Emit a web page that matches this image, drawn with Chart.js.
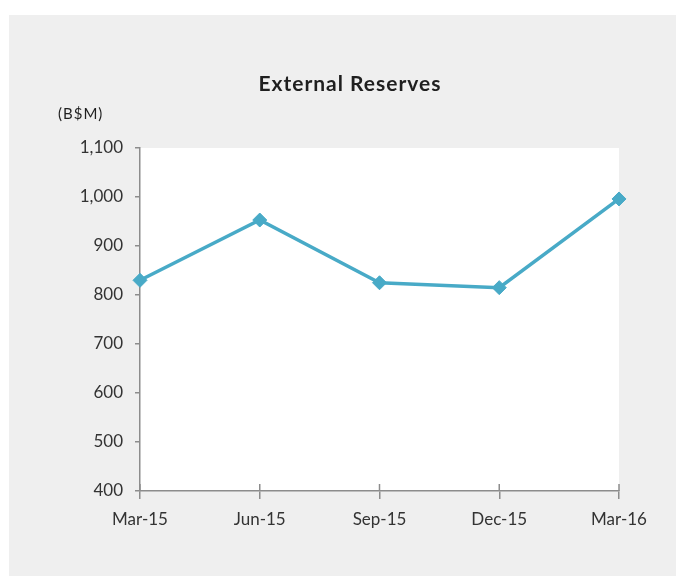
<!DOCTYPE html>
<html>
<head>
<meta charset="utf-8">
<title>External Reserves</title>
<script src="https://cdn.jsdelivr.net/npm/chart.js@4"></script>
<style>
  html, body { margin: 0; padding: 0; background: #ffffff; }
  #panel {
    position: absolute; left: 9px; top: 15px;
    width: 667px; height: 561px; background: #efefef;
  }
  canvas { display: block; }
</style>
</head>
<body>
<div id="panel"><canvas id="reservesChart" width="667" height="561"></canvas></div>
<script>
// quarterly reserves, B$M
const quarters = ['Mar-15', 'Jun-15', 'Sep-15', 'Dec-15', 'Mar-16'];
const reserves = [830, 953, 825, 815, 996];
const yMin = 400;
const yMax = 1100;
const yStep = 100;

const lineColor = '#48aac7';
const axisColor = '#8c8c8c';
const textColor = '#333333';

// white plot area, title, unit label and the upper half of the x ticks
const decor = {
    id: 'decor',
    beforeDraw(chart) {
        const a = chart.chartArea;
        const ctx = chart.ctx;
        ctx.save();
        ctx.fillStyle = '#ffffff';
        ctx.fillRect(a.left, a.top, a.right - a.left, a.bottom - a.top);
        ctx.restore();
    },
    afterDraw(chart) {
        const ctx = chart.ctx;
        const x = chart.scales.x;
        ctx.save();
        ctx.strokeStyle = axisColor;
        ctx.lineWidth = 1.5;
        x.ticks.forEach((t, i) => {
            const px = x.getPixelForTick(i);
            ctx.beginPath();
            ctx.moveTo(px, x.top - 7);
            ctx.lineTo(px, x.top);
            ctx.stroke();
        });
        ctx.fillStyle = '#1f1f1f';
        ctx.textAlign = 'center';
        ctx.textBaseline = 'middle';
        ctx.letterSpacing = '1px';
        ctx.font = 'bold 21px Lato';
        ctx.fillText('External Reserves', 341, 69);
        ctx.textAlign = 'left';
        ctx.font = '15px Lato';
        ctx.fillText('(B$M)', 49, 99);
        ctx.restore();
    }
};

const ctx = document.getElementById('reservesChart').getContext('2d');
const reservesChart = new Chart(ctx, {
    type: 'line',
    data: {
        labels: quarters,
        datasets: [{
            label: 'External Reserves',
            data: reserves,
            borderColor: lineColor,
            backgroundColor: lineColor,
            borderWidth: 3.5,
            tension: 0,
            pointStyle: 'rectRot',
            pointRadius: 7,
            pointBorderWidth: 1,
            pointBorderColor: lineColor,
            pointBackgroundColor: lineColor
        }]
    },
    options: {
        responsive: false,
        animation: false,
        layout: { padding: { left: 0, top: 133, right: 57, bottom: 0 } },
        plugins: {
            legend: { display: false },
            tooltip: { enabled: false }
        },
        scales: {
            x: {
                offset: false,
                afterFit: s => { s.height = 85; },
                grid: { drawOnChartArea: false, drawTicks: true, tickLength: 8, color: axisColor, lineWidth: 1.5 },
                border: { display: true, color: axisColor, width: 1.5 },
                ticks: { color: textColor, font: { family: 'Lato', size: 17 }, padding: 10, maxRotation: 0 }
            },
            y: {
                min: yMin,
                max: yMax,
                afterFit: s => { s.width = 131; },
                grid: { drawOnChartArea: false, drawTicks: true, tickLength: 5, color: axisColor, lineWidth: 1.5 },
                border: { display: true, color: axisColor, width: 1.5 },
                ticks: {
                    stepSize: yStep,
                    color: textColor,
                    font: { family: 'Lato', size: 17 },
                    padding: 12,
                    callback: v => v.toLocaleString('en-US')
                }
            }
        }
    },
    plugins: [decor]
});
</script>
</body>
</html>
